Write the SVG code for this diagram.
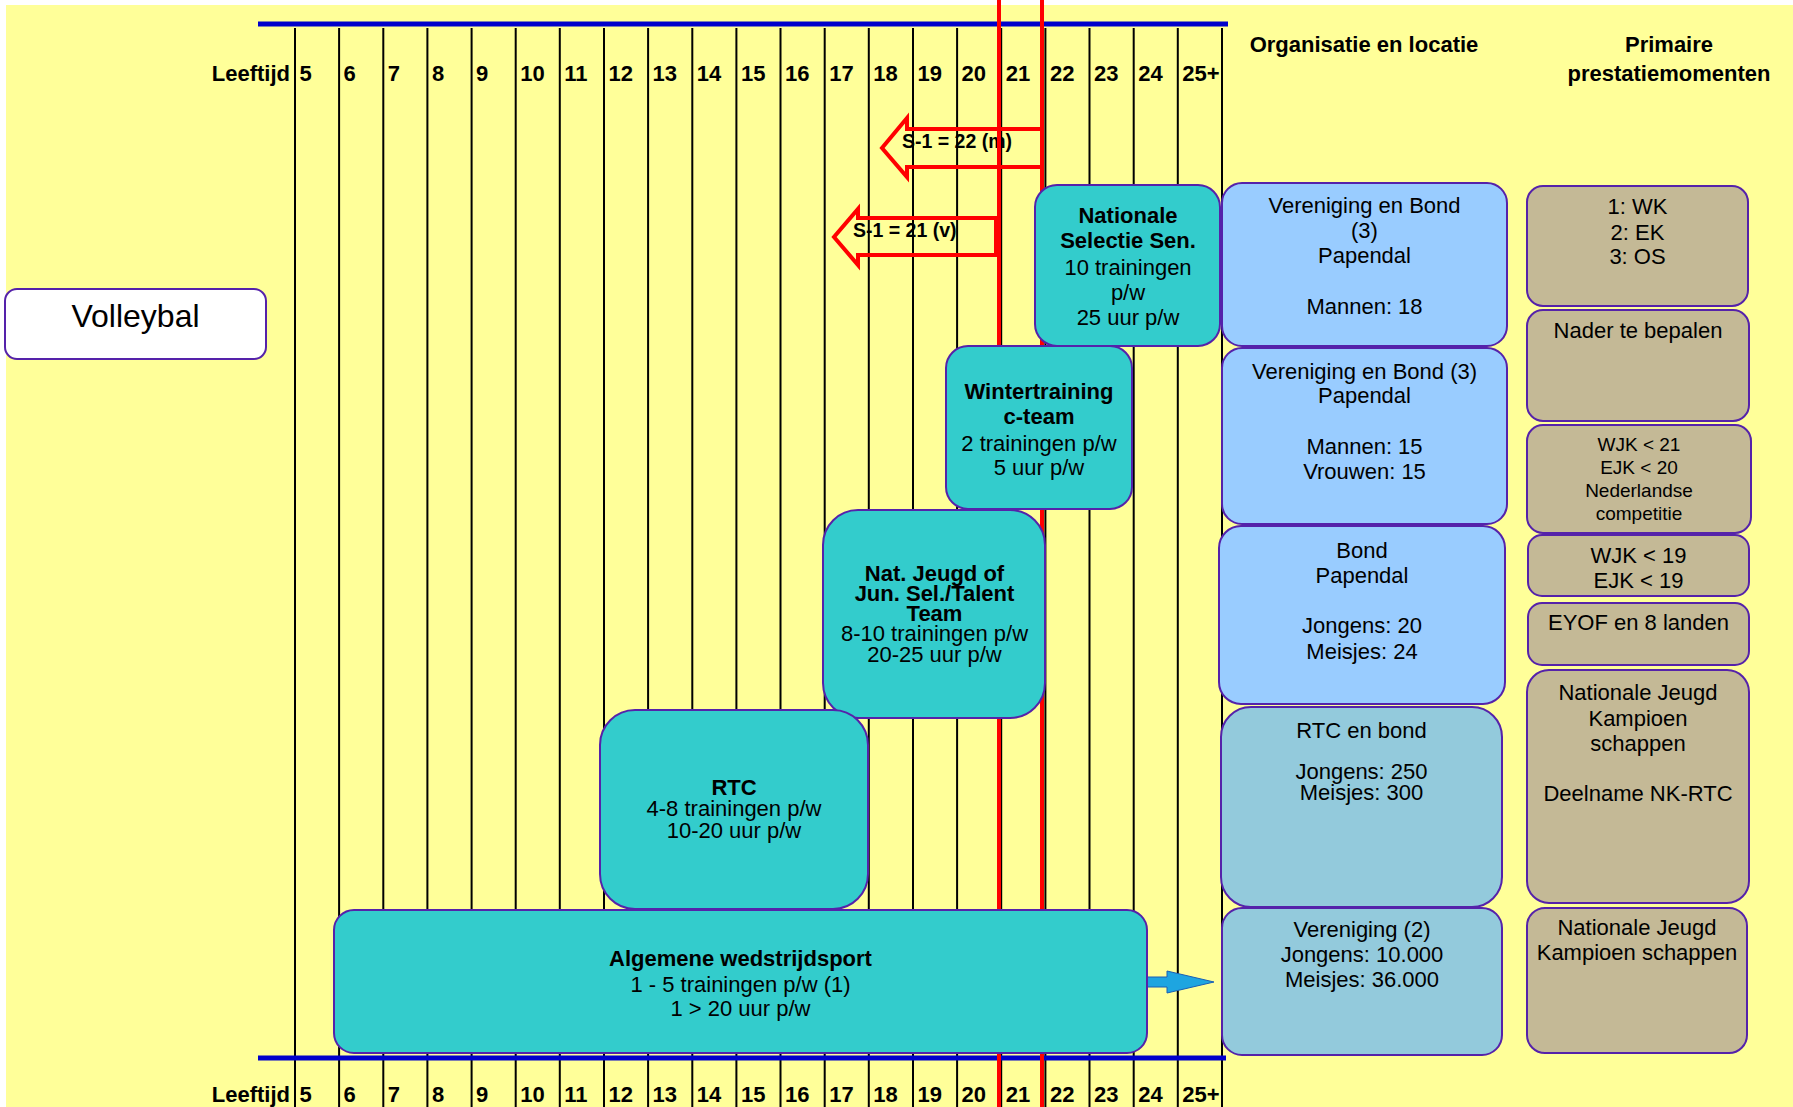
<svg xmlns="http://www.w3.org/2000/svg" width="1793" height="1107" viewBox="0 0 1793 1107">
<style>
text{font-family:"Liberation Sans",Arial,sans-serif;fill:#000;font-size:22px}
.b{font-weight:bold}
.m{text-anchor:middle}
.e{text-anchor:end}
.s19{font-size:19px}
.node{stroke:#5522AA;stroke-width:2}
.teal{fill:#33CCCC}
.lblue{fill:#99CCFF}
.cblue{fill:#93CADC}
.tan{fill:#C4B996}
.grid{stroke:#000;stroke-width:2;fill:none}
.axis{stroke:#0000CC;stroke-width:5}
.red{stroke:#FF0000;stroke-width:4;fill:none}
</style>
<rect width="1793" height="1107" fill="#FFFFFF"/>
<rect x="6" y="5" width="1787" height="1102" fill="#FFFF99"/>

<g id="arrow-labels" class="b">
<text x="902" y="148" style="font-size:19.5px">S-1 = 22 (m)</text>
<text x="853" y="237" style="font-size:19.5px">S-1 = 21 (v)</text>
</g>

<g id="grid">
<path class="grid" d="M295 28V1107M339.1 28V1107M383.3 28V1107M427.4 28V1107M471.6 28V1107M515.7 28V1107M559.8 28V1107M604 28V1107M648.1 28V1107M692.3 28V1107M736.4 28V1107M780.5 28V1107M824.7 28V1107M868.8 28V1107M913 28V1107M957.1 28V1107M1001.2 28V1107M1045.4 28V1107M1089.5 28V1107M1133.7 28V1107M1177.8 28V1107M1222 28V1107"/>
<line class="axis" x1="258" y1="24" x2="1228" y2="24"/>
<line class="axis" x1="258" y1="1058" x2="1226" y2="1058"/>
</g>

<g id="axis-top" class="b">
<text class="e" x="290" y="81">Leeftijd</text>
<text x="299.5" y="81">5</text><text x="343.6" y="81">6</text><text x="387.8" y="81">7</text><text x="431.9" y="81">8</text><text x="476.1" y="81">9</text><text x="520.2" y="81">10</text><text x="564.3" y="81">11</text><text x="608.5" y="81">12</text><text x="652.6" y="81">13</text><text x="696.8" y="81">14</text><text x="740.9" y="81">15</text><text x="785" y="81">16</text><text x="829.2" y="81">17</text><text x="873.3" y="81">18</text><text x="917.5" y="81">19</text><text x="961.6" y="81">20</text><text x="1005.7" y="81">21</text><text x="1049.9" y="81">22</text><text x="1094" y="81">23</text><text x="1138.2" y="81">24</text><text x="1182.3" y="81">25+</text>
</g>
<g id="axis-bottom" class="b">
<text class="e" x="290" y="1102">Leeftijd</text>
<text x="299.5" y="1102">5</text><text x="343.6" y="1102">6</text><text x="387.8" y="1102">7</text><text x="431.9" y="1102">8</text><text x="476.1" y="1102">9</text><text x="520.2" y="1102">10</text><text x="564.3" y="1102">11</text><text x="608.5" y="1102">12</text><text x="652.6" y="1102">13</text><text x="696.8" y="1102">14</text><text x="740.9" y="1102">15</text><text x="785" y="1102">16</text><text x="829.2" y="1102">17</text><text x="873.3" y="1102">18</text><text x="917.5" y="1102">19</text><text x="961.6" y="1102">20</text><text x="1005.7" y="1102">21</text><text x="1049.9" y="1102">22</text><text x="1094" y="1102">23</text><text x="1138.2" y="1102">24</text><text x="1182.3" y="1102">25+</text>
</g>

<g id="connectors">
<path class="red" d="M1042 129H907V118L882 148L907 177V167H1042"/>
<path class="red" d="M996 218H858V209L834 237L858 265V255H996Z"/>
<line class="red" x1="999" y1="0" x2="999" y2="1107"/>
<line class="red" x1="1042" y1="0" x2="1042" y2="1107"/>
<path d="M1147 977H1167V971L1214 982L1167 993V987H1147Z" fill="#1EA5E0" stroke="#1A5FB4" stroke-width="1"/>
</g>

<g id="headers" class="b m">
<text x="1364" y="52">Organisatie en locatie</text>
<text x="1669" y="52">Primaire</text>
<text x="1669" y="81">prestatiemomenten</text>
</g>

<g id="volleybal">
<rect class="node" x="5" y="289" width="261" height="70" rx="12" fill="#FFFFFF"/>
<text class="m" x="135.5" y="327" style="font-size:32px">Volleybal</text>
</g>

<g id="nationale-selectie">
<rect class="node teal" x="1035" y="185" width="185" height="161" rx="22"/>
<text class="m b" x="1128" y="223">Nationale</text>
<text class="m b" x="1128" y="248">Selectie Sen.</text>
<text class="m" x="1128" y="275">10 trainingen</text>
<text class="m" x="1128" y="300">p/w</text>
<text class="m" x="1128" y="325">25 uur p/w</text>
</g>

<g id="wintertraining">
<rect class="node teal" x="946" y="346" width="186" height="163" rx="22"/>
<text class="m b" x="1039" y="399">Wintertraining</text>
<text class="m b" x="1039" y="424">c-team</text>
<text class="m" x="1039" y="451">2 trainingen p/w</text>
<text class="m" x="1039" y="475">5 uur p/w</text>
</g>

<g id="nat-jeugd">
<rect class="node teal" x="823" y="510" width="222" height="208" rx="35"/>
<text class="m b" x="934.5" y="581">Nat. Jeugd of</text>
<text class="m b" x="934.5" y="601">Jun. Sel./Talent</text>
<text class="m b" x="934.5" y="621">Team</text>
<text class="m" x="934.5" y="641">8-10 trainingen p/w</text>
<text class="m" x="934.5" y="662">20-25 uur p/w</text>
</g>

<g id="rtc">
<rect class="node teal" x="600" y="710" width="268" height="199" rx="35"/>
<text class="m b" x="734" y="795">RTC</text>
<text class="m" x="734" y="816">4-8 trainingen p/w</text>
<text class="m" x="734" y="838">10-20 uur p/w</text>
</g>

<g id="algemene">
<rect class="node teal" x="334" y="910" width="813" height="143" rx="20"/>
<text class="m b" x="740.5" y="966">Algemene wedstrijdsport</text>
<text class="m" x="740.5" y="992">1 - 5 trainingen p/w (1)</text>
<text class="m" x="740.5" y="1016">1 &gt; 20 uur p/w</text>
</g>

<g id="org-senioren">
<rect class="node lblue" x="1222" y="183" width="285" height="163" rx="20"/>
<text class="m" x="1364.5" y="213">Vereniging en Bond</text>
<text class="m" x="1364.5" y="238">(3)</text>
<text class="m" x="1364.5" y="263">Papendal</text>
<text class="m" x="1364.5" y="314">Mannen: 18</text>
</g>

<g id="org-cteam">
<rect class="node lblue" x="1222" y="348" width="285" height="176" rx="20"/>
<text class="m" x="1364.5" y="379">Vereniging en Bond (3)</text>
<text class="m" x="1364.5" y="403">Papendal</text>
<text class="m" x="1364.5" y="454">Mannen: 15</text>
<text class="m" x="1364.5" y="479">Vrouwen: 15</text>
</g>

<g id="org-jeugd">
<rect class="node lblue" x="1219" y="526" width="286" height="178" rx="22"/>
<text class="m" x="1362" y="558">Bond</text>
<text class="m" x="1362" y="583">Papendal</text>
<text class="m" x="1362" y="633">Jongens: 20</text>
<text class="m" x="1362" y="659">Meisjes: 24</text>
</g>

<g id="org-rtc">
<rect class="node cblue" x="1221" y="707" width="281" height="200" rx="30"/>
<text class="m" x="1361.5" y="738">RTC en bond</text>
<text class="m" x="1361.5" y="779">Jongens: 250</text>
<text class="m" x="1361.5" y="800">Meisjes: 300</text>
</g>

<g id="org-vereniging">
<rect class="node cblue" x="1222" y="908" width="280" height="147" rx="20"/>
<text class="m" x="1362" y="937">Vereniging (2)</text>
<text class="m" x="1362" y="962">Jongens: 10.000</text>
<text class="m" x="1362" y="987">Meisjes: 36.000</text>
</g>

<g id="prest-senioren">
<rect class="node tan" x="1527" y="186" width="221" height="120" rx="16"/>
<text class="m" x="1637.5" y="214">1: WK</text>
<text class="m" x="1637.5" y="240">2: EK</text>
<text class="m" x="1637.5" y="264">3: OS</text>
</g>

<g id="prest-cteam">
<rect class="node tan" x="1527" y="310" width="222" height="111" rx="16"/>
<text class="m" x="1638" y="338">Nader te bepalen</text>
</g>

<g id="prest-junioren">
<rect class="node tan" x="1527" y="425" width="224" height="108" rx="16"/>
<text class="m s19" x="1639" y="451">WJK &lt; 21</text>
<text class="m s19" x="1639" y="474">EJK &lt; 20</text>
<text class="m s19" x="1639" y="497">Nederlandse</text>
<text class="m s19" x="1639" y="520">competitie</text>
</g>

<g id="prest-jeugd">
<rect class="node tan" x="1528" y="535" width="221" height="61" rx="14"/>
<text class="m" x="1638.5" y="563">WJK &lt; 19</text>
<text class="m" x="1638.5" y="588">EJK &lt; 19</text>
</g>

<g id="prest-eyof">
<rect class="node tan" x="1528" y="603" width="221" height="62" rx="14"/>
<text class="m" x="1638.5" y="630">EYOF en 8 landen</text>
</g>

<g id="prest-rtc">
<rect class="node tan" x="1527" y="670" width="222" height="233" rx="22"/>
<text class="m" x="1638" y="700">Nationale Jeugd</text>
<text class="m" x="1638" y="726">Kampioen</text>
<text class="m" x="1638" y="751">schappen</text>
<text class="m" x="1638" y="801">Deelname NK-RTC</text>
</g>

<g id="prest-vereniging">
<rect class="node tan" x="1527" y="908" width="220" height="145" rx="18"/>
<text class="m" x="1637" y="935">Nationale Jeugd</text>
<text class="m" x="1637" y="960">Kampioen schappen</text>
</g>
</svg>
